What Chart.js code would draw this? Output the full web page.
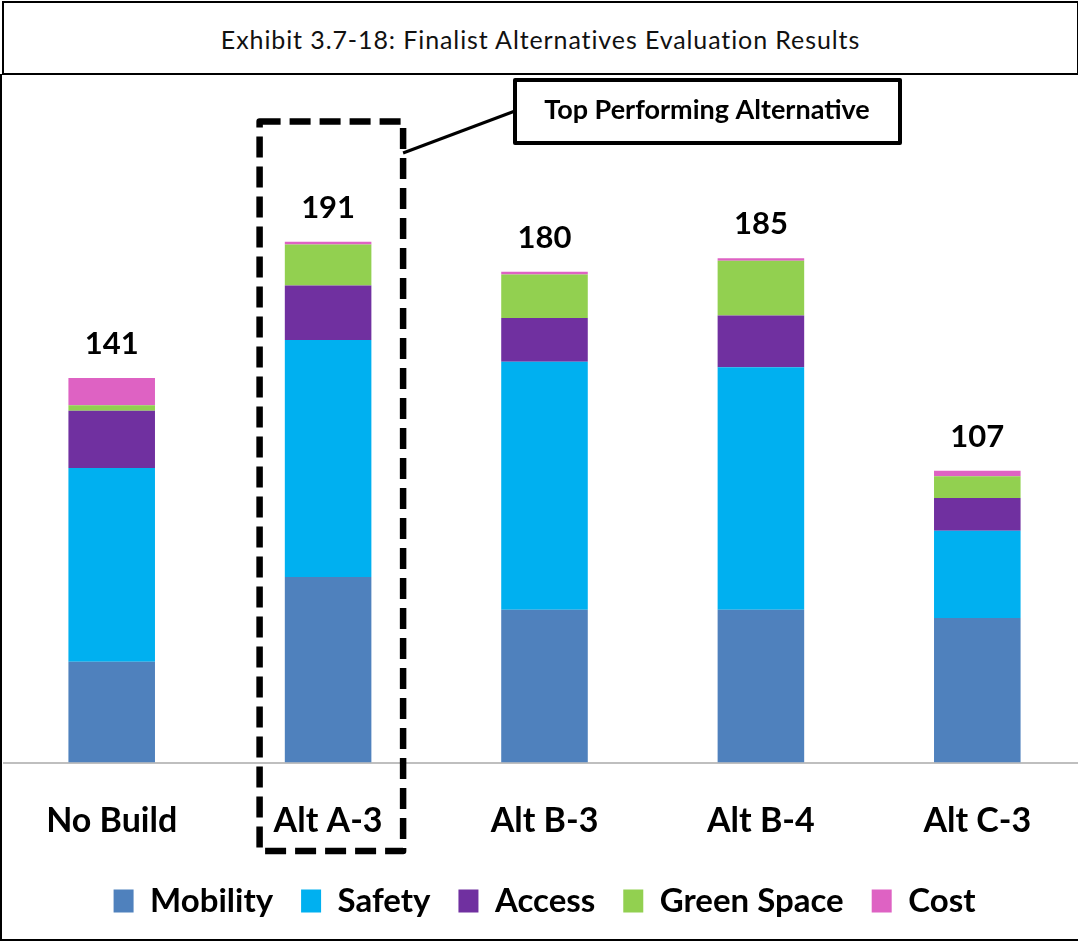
<!DOCTYPE html>
<html>
<head>
<meta charset="utf-8">
<script src="https://cdn.jsdelivr.net/npm/chart.js@4/dist/chart.umd.min.js"></script>
<style>
  html, body { margin: 0; padding: 0; background: #fff; }
  body { width: 1078px; height: 943px; overflow: hidden; position: relative; font-family: Lato, sans-serif; }
  #frame { position: absolute; left: 0; top: 74px; width: 1100px; height: 865px; border-left: 2px solid #000; border-bottom: 2px solid #000; }
  #title { position: absolute; left: 2px; top: 1px; width: 1073px; height: 70px; border: 2px solid #000; background: #fff;
           font: 25px Lato, sans-serif; letter-spacing: 0.9px; color: #111; text-align: center; line-height: 72px; z-index: 2; }
  #wrap { position: absolute; left: 0; top: 0; width: 1090px; height: 960px; z-index: 1; }
</style>
</head>
<body>
<div id="frame"></div>
<div id="title">Exhibit 3.7-18: Finalist Alternatives Evaluation Results</div>
<div id="wrap"><canvas id="evalChart" width="1090" height="960"></canvas></div>
<script>
const alternatives = ['No Build', 'Alt A-3', 'Alt B-3', 'Alt B-4', 'Alt C-3'];
const mobility   = [37, 68, 56, 56, 53];
const safety     = [71, 87, 91, 89, 32];
const access     = [21, 20, 16, 19, 12];
const greenSpace = [2, 15, 16, 20, 8];
const cost       = [10, 1, 1, 1, 2];
const calloutText = 'Top Performing Alternative';

const FONT = 'Lato, sans-serif';

// totals above each stack
const totalsPlugin = {
  id: 'totals',
  afterDatasetsDraw(chart) {
    const { ctx, scales: { x, y } } = chart;
    ctx.save();
    ctx.font = `bold 31px ${FONT}`;
    ctx.fillStyle = '#000';
    ctx.textAlign = 'center';
    ctx.textBaseline = 'alphabetic';
    alternatives.forEach((_, i) => {
      const total = chart.data.datasets.reduce((s, ds) => s + ds.data[i], 0);
      ctx.fillText(String(total), x.getPixelForValue(i), y.getPixelForValue(total) - 24);
    });
    ctx.restore();
  },
};

// dashed frame round the best stack, plus the callout box
const highlightPlugin = {
  id: 'highlight',
  afterDraw(chart) {
    const { ctx, scales: { x } } = chart;
    const totals = alternatives.map((_, i) => chart.data.datasets.reduce((s, ds) => s + ds.data[i], 0));
    const best = totals.indexOf(Math.max(...totals));
    const cx = x.getPixelForValue(best);
    const left = cx - 68.5, right = cx + 75, top = 121.5, bottom = 851;

    ctx.save();
    ctx.strokeStyle = '#000';
    ctx.lineWidth = 6.5;
    ctx.lineJoin = 'round';
    ctx.setLineDash([21, 9]);
    ctx.strokeRect(left, top, right - left, bottom - top);

    ctx.setLineDash([]);
    ctx.lineWidth = 3;
    ctx.beginPath();
    ctx.moveTo(right, 153);
    ctx.lineTo(515, 111);
    ctx.stroke();

    ctx.lineWidth = 4;
    ctx.fillStyle = '#fff';
    ctx.fillRect(515, 80, 385, 63);
    ctx.strokeRect(515, 80, 385, 63);

    ctx.fillStyle = '#000';
    ctx.font = `bold 27px ${FONT}`;
    ctx.textAlign = 'center';
    ctx.textBaseline = 'middle';
    ctx.fillText(calloutText, 707, 110);
    ctx.restore();
  },
};

const makeSet = (label, data, color) => ({
  label, data, backgroundColor: color, borderWidth: 0,
  categoryPercentage: 1.0, barPercentage: 0.4,
});

new Chart(document.getElementById('evalChart').getContext('2d'), {
  type: 'bar',
  data: {
    labels: alternatives,
    datasets: [
      makeSet('Mobility', mobility, '#4F81BD'),
      makeSet('Safety', safety, '#00B0F0'),
      makeSet('Access', access, '#7030A0'),
      makeSet('Green Space', greenSpace, '#92D050'),
      makeSet('Cost', cost, '#DE62C3'),
    ],
  },
  options: {
    responsive: false,
    animation: false,
    layout: { padding: { left: 3.5, right: 4.5, top: 100, bottom: 32.5 } },
    scales: {
      x: {
        stacked: true,
        grid: { display: false, drawTicks: false },
        border: { display: true, color: '#BFBFBF', width: 2 },
        ticks: { color: '#000', font: { family: FONT, size: 34, weight: 'bold' }, padding: 38 },
        afterFit: (scale) => { scale.height = 94; },
      },
      y: {
        stacked: true,
        display: false,
        min: 0,
        max: 243,
      },
    },
    plugins: {
      legend: {
        position: 'bottom',
        labels: {
          color: '#000',
          boxWidth: 20,
          boxHeight: 23,
          padding: 28,
          font: { family: FONT, size: 33, weight: 'bold' },
        },
      },
      tooltip: { enabled: false },
    },
  },
  plugins: [totalsPlugin, highlightPlugin],
});
</script>
</body>
</html>
